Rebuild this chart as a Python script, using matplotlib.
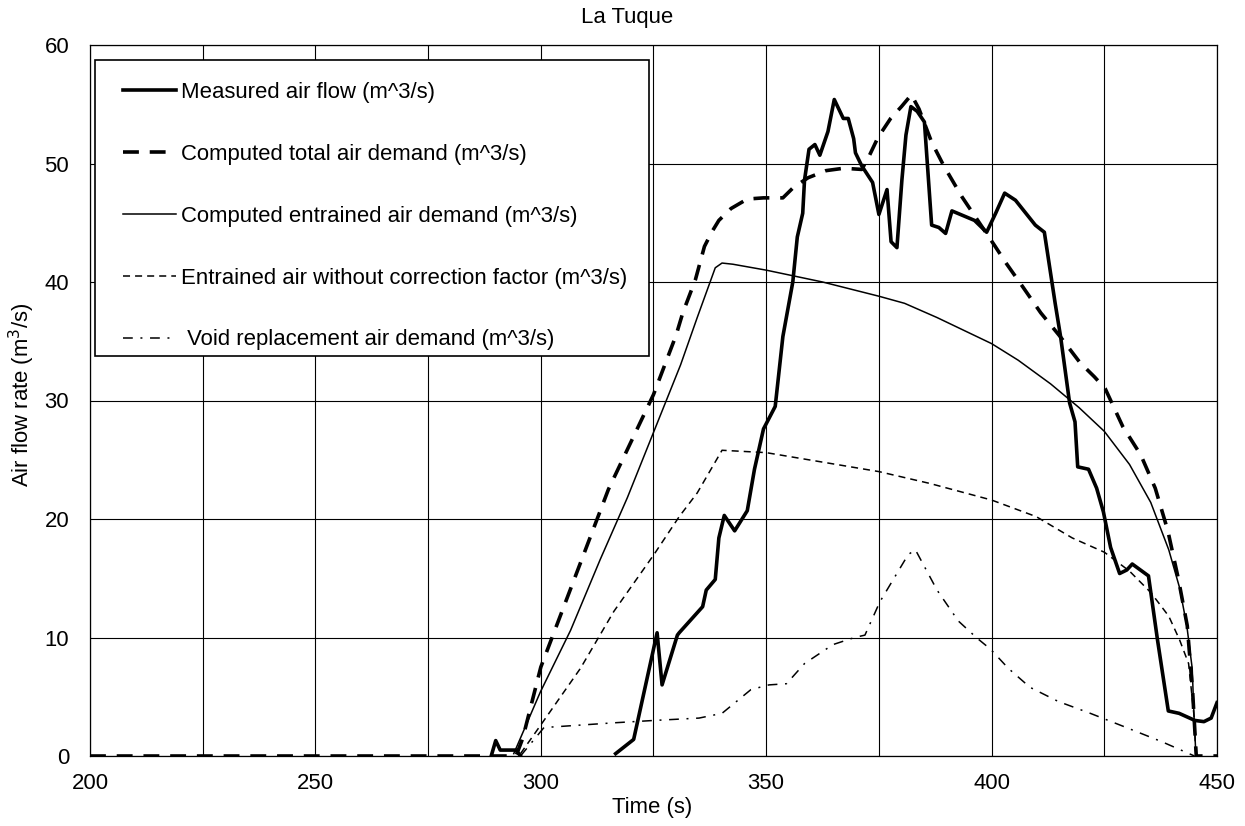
#air flow comparison for La Tuque
import numpy as np
import matplotlib
matplotlib.use("Agg")
import matplotlib.pyplot as plt
from matplotlib.patches import Rectangle

plt.rcParams['font.family'] = ['Liberation Sans', 'DejaVu Sans']
plt.rcParams['font.size'] = 15.9

# measured air flow (gap where no reading was logged)
t_meas = [289, 290, 291, 294.5, 295.5, np.nan, 316.6, 320.6, 325.8, 326.9, 330.3, 330.7, 335.9, 336.7,
          338.7, 339.5, 340.7, 343.0, 345.8, 347.4, 349.4, 352.0, 353.7, 355.9, 356.9,
          358.1, 358.5, 359.5, 360.8, 361.9, 363.7, 365.1, 367.1, 368.2, 369.4, 369.8,
          371.2, 373.6, 375.0, 376.8, 377.7, 379.0, 380.1, 381.0, 382.1, 383.5, 385.1,
          386.7, 388.3, 389.8, 391.2, 396.2, 398.9, 400.9, 402.9, 405.3, 409.7, 411.7,
          414.1, 415.3, 417.3, 418.5, 419.1, 421.5, 423.3, 424.8, 426.4, 428.4, 430.0,
          431.2, 434.8, 436.8, 439.2, 441.6, 445.1, 447.1, 448.7, 450.0]
q_meas = [0, 1.3, 0.5, 0.5, 0, np.nan, 0.2, 1.4, 10.4, 6.0, 10.2, 10.4, 12.6, 14.0,
          14.9, 18.4, 20.3, 19.0, 20.7, 24.2, 27.6, 29.5, 35.4, 40.0, 43.8,
          45.8, 48.6, 51.2, 51.6, 50.7, 52.7, 55.4, 53.8, 53.8, 52.1, 50.9,
          49.8, 48.4, 45.7, 47.8, 43.4, 42.9, 48.6, 52.4, 54.8, 54.4, 53.5,
          44.8, 44.6, 44.1, 46.0, 45.2, 44.2, 45.8, 47.5, 46.9, 44.8, 44.2,
          38.2, 35.4, 29.8, 28.2, 24.4, 24.2, 22.6, 20.6, 17.6, 15.4, 15.7,
          16.2, 15.2, 9.8, 3.8, 3.6, 3.0, 2.9, 3.2, 4.5]

# computed total air demand
t_tot = [200, 294.5, 296, 300, 305, 310, 315, 320, 325, 330, 331.5, 334.3, 336.3, 337.9,
         339.5, 342.2, 345.8, 349.4, 353.7, 356.1, 359.3, 363.3, 367.2, 371.2, 372.8,
         374.8, 377.6, 380.0, 382.2, 383.9, 386.7, 389.4, 393.4, 400.8, 403.2, 406.9,
         410.9, 415.2, 419.6, 422.8, 425.2, 429.1, 433.1, 436.3, 439.1, 441.4, 443.4,
         444.6, 445.4, 450]
q_tot = [0, 0, 1.5, 7.5, 12.5, 17.5, 22.5, 26.5, 30.5, 35.5, 37.4, 40.2, 43.0, 44.2,
         45.2, 46.2, 47.0, 47.1, 47.1, 48.0, 48.8, 49.4, 49.6, 49.5, 50.6,
         52.2, 53.8, 54.8, 55.8, 54.6, 51.8, 49.8, 47.2, 43.0, 41.6, 39.6,
         37.4, 35.4, 33.2, 32.0, 31.0, 27.8, 25.4, 22.6, 19.0, 15.0, 11.0,
         5.4, 0, 0]

# computed entrained air demand
t_ent = [294.0, 299.9, 306.6, 313.2, 319.2, 325.1, 331.0, 334.7, 338.7, 340.2, 342.6,
         350, 362.5, 375, 380.7, 387.9, 400, 405.9, 413.1, 419.4, 425, 430.6, 435.3,
         439.3, 441.7, 443.3, 444.5, 444.9, 445.3]
q_ent = [0.2, 5.4, 10.6, 16.6, 21.8, 27.4, 33.0, 37.0, 41.2, 41.6, 41.5,
         41.0, 40.0, 38.8, 38.2, 37.0, 34.8, 33.4, 31.4, 29.4, 27.4, 24.6, 21.4,
         17.4, 14.2, 11.0, 7.4, 3.4, 0.2]

# entrained air without correction factor
t_nocf = [295.5, 300.7, 308.8, 316.2, 325.1, 330.7, 334.7, 340.2, 350, 375, 386.3, 400,
          409.9, 417.9, 425, 430.6, 435.3, 439.3, 441.7, 443.7, 444.9, 445.3]
q_nocf = [0.2, 3.0, 7.4, 12.2, 17.0, 20.2, 22.2, 25.8, 25.6, 24.0, 23.0, 21.6,
          20.2, 18.4, 17.2, 15.6, 13.8, 11.8, 9.8, 7.8, 3.4, 0.2]

# void replacement air demand
t_void = [295.5, 300.7, 316.2, 325.1, 335.1, 340.2, 346.6, 350.6, 354.5, 358.5, 364.8,
          369.6, 371.9, 375.2, 381.5, 383.1, 387.9, 392.6, 396.6, 399.8, 403.7, 408.5,
          414.8, 421.9, 429.9, 437.8, 445.0]
q_void = [0, 2.4, 2.8, 3.0, 3.2, 3.6, 5.6, 6.0, 6.1, 7.8, 9.4,
          10.0, 10.2, 13.0, 17.0, 17.4, 14.0, 11.4, 10.0, 9.0, 7.4, 5.8,
          4.6, 3.6, 2.4, 1.2, 0]

fig = plt.figure(figsize=(12.45, 8.26), dpi=100)
ax = fig.add_axes([90/1245, 70/826, 1127/1245, 711/826])

ax.plot(t_meas, q_meas, 'k', linewidth=2.6, solid_joinstyle='round',
        label='Measured air flow (m^3/s)', zorder=5)
ax.plot(t_tot, q_tot, 'k', linewidth=2.6, dashes=(4.4, 3.0),
        label='Computed total air demand (m^3/s)', zorder=4)
ax.plot(t_ent, q_ent, 'k', linewidth=1.1, label='Computed entrained air demand (m^3/s)', zorder=4)
ax.plot(t_nocf, q_nocf, 'k', linewidth=1.1, dashes=(4.6, 3.3),
        label='Entrained air without correction factor (m^3/s)', zorder=4)
ax.plot(t_void, q_void, 'k', linewidth=1.1, dashes=(6.4, 5, 1.3, 5),
        label=' Void replacement air demand (m^3/s)', zorder=4)

ax.set_xlim(200, 450)
ax.set_ylim(0, 60)
ax.set_xticks(np.arange(200, 451, 50))
ax.set_xticks(np.arange(225, 451, 50), minor=True)
ax.set_yticks(np.arange(0, 61, 10))
ax.grid(True, which='both', color='k', linewidth=0.8)
ax.tick_params(which='both', length=0)
ax.tick_params(axis='x', pad=12)
ax.tick_params(axis='y', pad=15)
for s in ax.spines.values():
    s.set_linewidth(0.9)

# legend box
ax.add_patch(Rectangle((5/1127, 400/711), 554/1127, 296/711, transform=ax.transAxes,
                       facecolor='white', edgecolor='k', linewidth=1.2, zorder=6))
leg = ax.legend(loc='upper left', bbox_to_anchor=(33/1127, 674/711), frameon=False,
                borderpad=0, borderaxespad=0, handlelength=2.4, handletextpad=0.22,
                labelspacing=1.85)
leg.set_zorder(7)

fig.text(627/1245, 1 - 17/826, 'La Tuque', ha='center', va='center')
fig.text(652/1245, 1 - 808/826, 'Time (s)', ha='center', va='center')
fig.text(22/1245, 1 - 395/826, 'Air flow rate (m$^3$/s)', ha='center', va='center', rotation=90)

plt.savefig('out.png')
